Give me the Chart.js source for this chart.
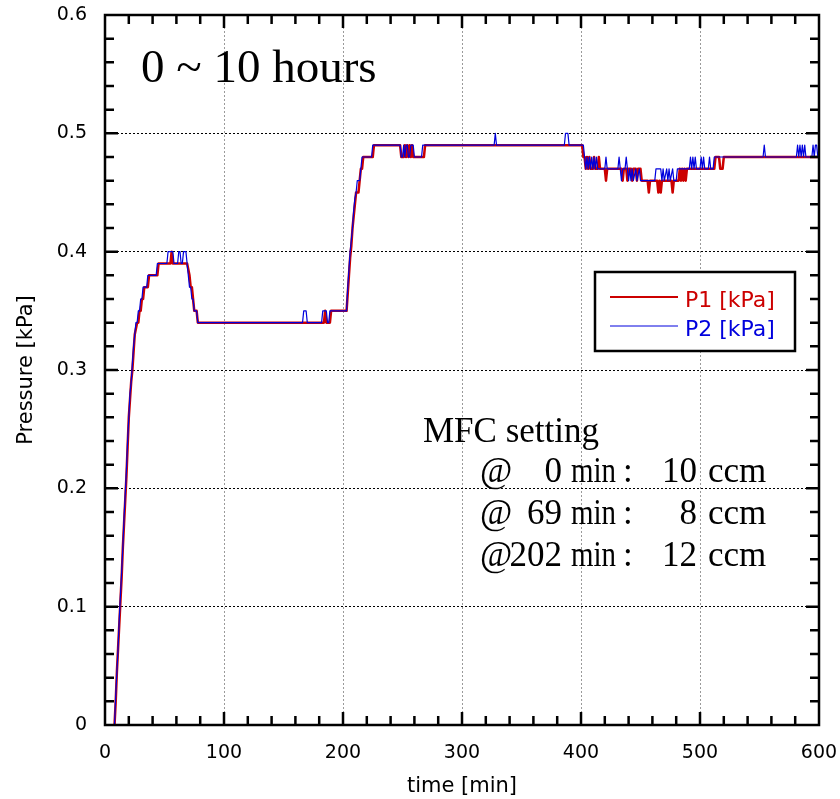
<!DOCTYPE html>
<html>
<head>
<meta charset="utf-8">
<script src="https://cdn.jsdelivr.net/npm/chart.js@4.4.0/dist/chart.umd.min.js"></script>
<style>
  html, body { margin: 0; padding: 0; background: #fff; }
  #wrap { width: 840px; height: 799px; }
</style>
</head>
<body>
<div id="wrap"><canvas id="pressureChart" width="840" height="799"></canvas></div>
<script>
// P1 [kPa] breakpoints (time in min, pressure in kPa)
const p1Time = [
  8, 9, 10, 11, 12, 13, 14, 15, 16, 17, 18, 19, 20, 21, 22, 23, 24, 25, 27, 28, 29, 30, 31, 32, 33, 36, 37, 44, 45, 55, 56, 57, 69, 71, 72, 73, 74, 75, 77, 78,
  184, 185, 186, 189, 190, 203, 204, 205, 206, 207, 208, 209, 210, 211, 213, 214, 215, 216, 217, 225, 226,
  248, 249, 251, 252, 253, 254, 255, 256, 257, 258, 259, 268, 269,
  401, 402, 403, 404, 405, 406, 407, 408, 410, 411, 412, 414, 415, 416, 420, 421, 422,
  434, 435, 436, 438, 439, 440, 442, 443, 444, 446, 447, 448, 450, 451,
  456, 457, 458, 464, 465, 466, 467, 468, 476, 477, 478, 482, 483, 484, 485, 486, 487, 488, 489,
  512, 513, 516, 517, 519, 520, 600
];
const p1Kpa = [
  0, 0.02, 0.045, 0.065, 0.085, 0.105, 0.125, 0.15, 0.17, 0.19, 0.21, 0.235, 0.26, 0.275, 0.29, 0.30, 0.315, 0.33, 0.34, 0.34, 0.35, 0.35, 0.36, 0.36, 0.37, 0.37, 0.38, 0.38, 0.39, 0.39, 0.40, 0.39, 0.39, 0.38, 0.37, 0.37, 0.36, 0.35, 0.35, 0.34,
  0.34, 0.35, 0.34, 0.34, 0.35, 0.35, 0.365, 0.38, 0.395, 0.405, 0.42, 0.43, 0.44, 0.45, 0.45, 0.46, 0.47, 0.47, 0.48, 0.48, 0.49,
  0.49, 0.48, 0.48, 0.49, 0.48, 0.49, 0.48, 0.49, 0.48, 0.49, 0.48, 0.48, 0.49,
  0.49, 0.48, 0.48, 0.47, 0.48, 0.47, 0.48, 0.47, 0.47, 0.48, 0.47, 0.47, 0.48, 0.47, 0.47, 0.46, 0.47,
  0.47, 0.46, 0.47, 0.47, 0.46, 0.47, 0.47, 0.46, 0.47, 0.47, 0.46, 0.47, 0.47, 0.46,
  0.46, 0.45, 0.46, 0.46, 0.45, 0.46, 0.45, 0.46, 0.46, 0.45, 0.46, 0.46, 0.47, 0.46, 0.47, 0.46, 0.47, 0.46, 0.47,
  0.47, 0.48, 0.48, 0.47, 0.47, 0.48, 0.48
];

// P2 [kPa] breakpoints
const p2Time = [
  8, 9, 10, 11, 12, 13, 14, 15, 16, 17, 18, 19, 20, 21, 22, 23, 24, 25, 26, 27, 28, 29, 30, 31, 32, 35, 36, 43, 44, 52, 53, 57, 58, 61, 62, 63, 64, 65, 66, 68, 69, 70, 71, 72, 73, 74, 75, 77, 78,
  166, 167, 169, 170, 182, 183, 186, 187, 188, 189, 203, 204, 205, 206, 207, 208, 209, 210, 211, 212, 214, 215, 216, 224, 225,
  248, 249, 250, 251, 252, 253, 254, 255, 256, 257, 259, 260, 266, 267,
  327, 328, 329, 386, 387, 389, 390,
  402, 403, 404, 405, 406, 407, 408, 409, 410, 411, 412, 413, 414, 420, 421, 422, 431, 432, 433, 434, 435, 437, 438, 439, 440, 441, 442, 443, 444, 446, 447, 449, 450,
  462, 463, 467, 468, 469, 470, 472, 473, 474, 475, 477, 478, 480, 481, 491, 492, 493, 494, 495, 496, 497, 500, 501, 502, 503, 504, 507, 508, 509, 511, 512,
  553, 554, 555, 581, 582, 583, 584, 585, 586, 587, 588, 589, 594, 595, 596, 597, 598, 599, 600
];
const p2Kpa = [
  0, 0.025, 0.045, 0.065, 0.09, 0.11, 0.13, 0.15, 0.175, 0.195, 0.215, 0.24, 0.26, 0.28, 0.29, 0.305, 0.32, 0.33, 0.34, 0.34, 0.35, 0.35, 0.36, 0.36, 0.37, 0.37, 0.38, 0.38, 0.39, 0.39, 0.40, 0.40, 0.39, 0.39, 0.40, 0.40, 0.39, 0.39, 0.40, 0.40, 0.39, 0.38, 0.37, 0.37, 0.36, 0.36, 0.35, 0.35, 0.34,
  0.34, 0.35, 0.35, 0.34, 0.34, 0.35, 0.35, 0.34, 0.34, 0.35, 0.35, 0.37, 0.385, 0.40, 0.41, 0.42, 0.435, 0.445, 0.45, 0.46, 0.46, 0.47, 0.48, 0.48, 0.49,
  0.49, 0.48, 0.48, 0.49, 0.48, 0.49, 0.49, 0.48, 0.48, 0.49, 0.49, 0.48, 0.48, 0.49,
  0.49, 0.50, 0.49, 0.49, 0.50, 0.50, 0.49,
  0.49, 0.48, 0.47, 0.48, 0.47, 0.48, 0.47, 0.48, 0.47, 0.48, 0.47, 0.48, 0.47, 0.47, 0.48, 0.47, 0.47, 0.48, 0.47, 0.46, 0.47, 0.47, 0.48, 0.47, 0.46, 0.47, 0.46, 0.47, 0.46, 0.47, 0.46, 0.47, 0.46,
  0.46, 0.47, 0.47, 0.46, 0.47, 0.46, 0.47, 0.46, 0.47, 0.46, 0.47, 0.46, 0.46, 0.47, 0.47, 0.48, 0.47, 0.48, 0.47, 0.48, 0.47, 0.47, 0.48, 0.47, 0.48, 0.47, 0.47, 0.48, 0.47, 0.47, 0.48,
  0.48, 0.49, 0.48, 0.48, 0.49, 0.48, 0.49, 0.48, 0.49, 0.48, 0.49, 0.48, 0.48, 0.49, 0.48, 0.49, 0.49, 0.48, 0.48
];

const seriesLabels = ['P1 [kPa]', 'P2 [kPa]'];
const seriesColors = ['#cc0000', '#0000dd'];

// axis ranges / ticks
const xRange = [0, 600], xMajor = 100, xMinor = 20;
const yRange = [0, 0.6], yMajor = 0.1, yMinor = 0.02;

// annotations
const periodText = '0 ~ 10 hours';
const mfcTitle = 'MFC setting';
const mfcTimes = [0, 69, 202];
const mfcFlows = [10, 8, 12];

function toPoints(times, values) {
    return times.map((t, i) => ({ x: t, y: values[i] }));
}

// frame + inward ticks on all four sides
const framePlugin = {
    id: 'frame',
    afterDraw(chart) {
        const { ctx, chartArea: a, scales: { x, y } } = chart;
        ctx.save();
        ctx.strokeStyle = '#000';
        ctx.lineWidth = 2.5;
        ctx.beginPath();
        const nx = Math.round((xRange[1] - xRange[0]) / xMinor);
        for (let i = 1; i < nx; i++) {
            const px = x.getPixelForValue(xRange[0] + i * xMinor);
            const len = i % 5 === 0 ? 13 : 9;
            ctx.moveTo(px, a.bottom); ctx.lineTo(px, a.bottom - len);
            ctx.moveTo(px, a.top); ctx.lineTo(px, a.top + len);
        }
        const ny = Math.round((yRange[1] - yRange[0]) / yMinor);
        for (let i = 1; i < ny; i++) {
            const py = y.getPixelForValue(yRange[0] + i * yMinor);
            const len = i % 5 === 0 ? 13 : 9;
            ctx.moveTo(a.left, py); ctx.lineTo(a.left + len, py);
            ctx.moveTo(a.right, py); ctx.lineTo(a.right - len, py);
        }
        ctx.stroke();
        ctx.strokeRect(a.left, a.top, a.right - a.left, a.bottom - a.top);
        ctx.restore();
    }
};

// legend box + text annotations
const notesPlugin = {
    id: 'notes',
    afterDraw(chart) {
        const { ctx } = chart;
        ctx.save();

        // legend
        const bx = 595, by = 272, bw = 200, bh = 79;
        ctx.fillStyle = '#fff';
        ctx.fillRect(bx, by, bw, bh);
        ctx.lineWidth = 2.5;
        ctx.strokeStyle = '#000';
        ctx.strokeRect(bx, by, bw, bh);
        ctx.font = '22px "DejaVu Sans"';
        ctx.textBaseline = 'alphabetic';
        ctx.textAlign = 'left';
        chart.data.datasets.forEach((ds, i) => {
            const ly = 297 + i * 29;
            ctx.strokeStyle = ds.borderColor;
            ctx.lineWidth = i === 0 ? 2 : 1;
            ctx.beginPath();
            ctx.moveTo(610, ly); ctx.lineTo(678, ly);
            ctx.stroke();
            ctx.fillStyle = ds.borderColor;
            ctx.fillText(ds.label, 685, ly + 10);
        });

        // period text
        ctx.fillStyle = '#000';
        ctx.font = '47px "Liberation Serif"';
        ctx.fillText(periodText, 141, 82);

        // MFC settings
        ctx.font = '35px "Liberation Serif"';
        ctx.fillText(mfcTitle, 423, 442);
        mfcTimes.forEach((t, i) => {
            const base = 482 + i * 42;
            ctx.textAlign = 'left';
            ctx.fillText('@', 480, base);
            ctx.textAlign = 'right';
            ctx.fillText(String(t), 562, base);
            ctx.textAlign = 'left';
            ctx.fillText('min', 571, base, 45);
            ctx.fillText(':', 623, base);
            ctx.textAlign = 'right';
            ctx.fillText(String(mfcFlows[i]), 697, base);
            ctx.textAlign = 'left';
            ctx.fillText('ccm', 708, base);
        });
        ctx.restore();
    }
};

// pin the plot area: no extra label padding from the scales
function noPad(s) {
    s.paddingTop = 0; s.paddingBottom = 0; s.paddingLeft = 0; s.paddingRight = 0;
}

const tickFont = { family: 'DejaVu Sans', size: 19 };
const titleFont = { family: 'DejaVu Sans', size: 21 };

new Chart(document.getElementById('pressureChart').getContext('2d'), {
    type: 'line',
    data: {
        datasets: [
            {
                label: seriesLabels[0],
                data: toPoints(p1Time, p1Kpa),
                borderColor: seriesColors[0],
                borderWidth: 2.5,
                borderJoinStyle: 'round',
                pointRadius: 0,
                tension: 0,
                order: 1
            },
            {
                label: seriesLabels[1],
                data: toPoints(p2Time, p2Kpa),
                borderColor: seriesColors[1],
                borderWidth: 1.2,
                borderJoinStyle: 'round',
                pointRadius: 0,
                tension: 0,
                order: 0
            }
        ]
    },
    options: {
        responsive: false,
        animation: false,
        devicePixelRatio: 1,
        layout: { padding: { left: 0, right: 21, top: 15, bottom: 0 } },
        plugins: { legend: { display: false }, tooltip: { enabled: false } },
        scales: {
            x: {
                type: 'linear',
                min: xRange[0],
                max: xRange[1],
                afterFit: s => { s.height = 74; noPad(s); },
                ticks: { stepSize: xMajor, color: '#000', font: tickFont, padding: 17, maxRotation: 0 },
                grid: {
                    drawTicks: false,
                    lineWidth: 1,
                    color: c => (c.tick && (c.tick.value === xRange[0] || c.tick.value === xRange[1])) ? 'rgba(0,0,0,0)' : '#9a9a9a'
                },
                border: { display: false, dash: [2, 2] },
                title: { display: true, text: 'time [min]', color: '#000', font: titleFont, padding: { top: 0, bottom: 0 } }
            },
            y: {
                min: yRange[0],
                max: yRange[1],
                afterFit: s => { s.width = 105; noPad(s); },
                ticks: { stepSize: yMajor, color: '#000', font: tickFont, padding: 18 },
                grid: {
                    drawTicks: false,
                    lineWidth: 1,
                    color: c => (c.tick && (c.tick.value === yRange[0] || Math.abs(c.tick.value - yRange[1]) < 1e-9)) ? 'rgba(0,0,0,0)' : '#000'
                },
                border: { display: false, dash: [2, 2] },
                title: { display: true, text: 'Pressure [kPa]', color: '#000', font: titleFont, padding: { top: 14, bottom: 0 } }
            }
        }
    },
    plugins: [framePlugin, notesPlugin]
});
</script>
</body>
</html>
